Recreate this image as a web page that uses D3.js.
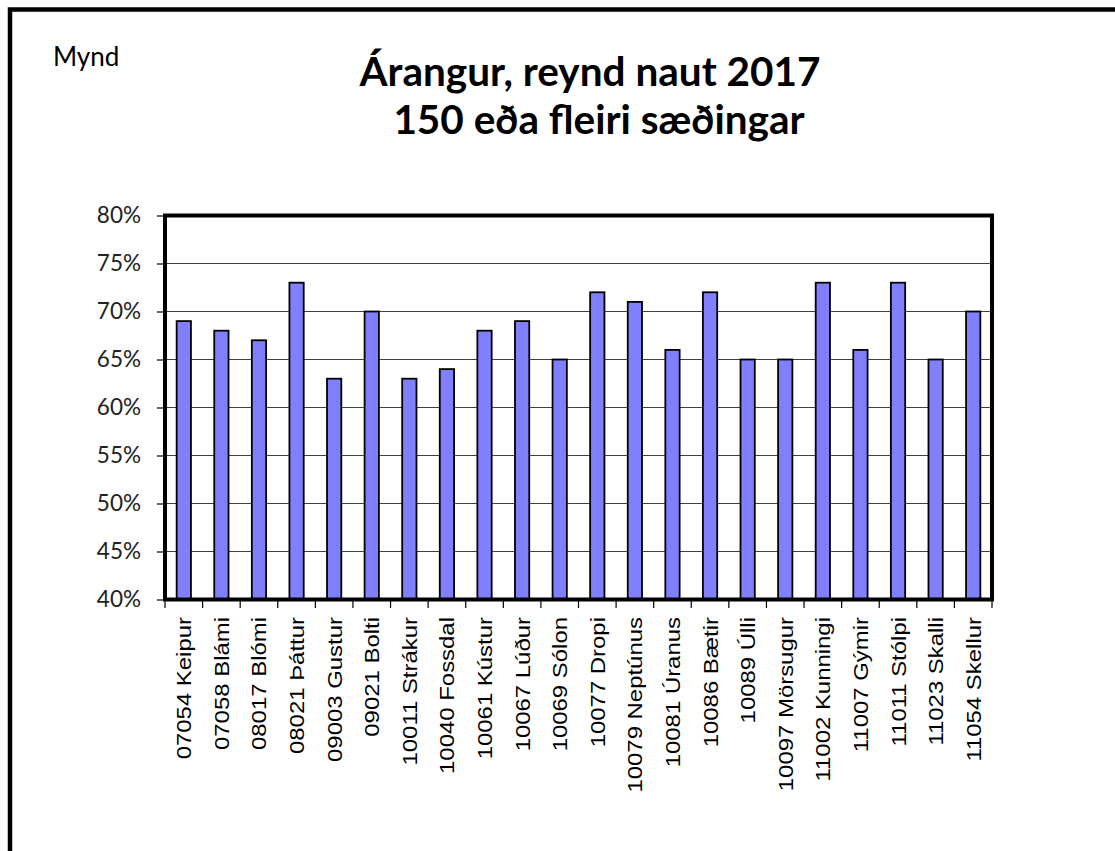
<!DOCTYPE html>
<html><head><meta charset="utf-8">
<script src="https://cdn.jsdelivr.net/npm/d3@7"></script>
<style>html,body{margin:0;padding:0;background:#fff;}svg{display:block;}</style>
</head><body>
<svg id="c" width="1115" height="851"></svg>
<script>
const categories = ["07054 Keipur","07058 Blámi","08017 Blómi","08021 Þáttur","09003 Gustur","09021 Bolti","10011 Strákur","10040 Fossdal","10061 Kústur","10067 Lúður","10069 Sólon","10077 Dropi","10079 Neptúnus","10081 Úranus","10086 Bætir","10089 Úlli","10097 Mörsugur","11002 Kunningi","11007 Gýmir","11011 Stólpi","11023 Skalli","11054 Skellur"];
const values = [0.69,0.68,0.67,0.73,0.63,0.70,0.63,0.64,0.68,0.69,0.65,0.72,0.71,0.66,0.72,0.65,0.65,0.73,0.66,0.73,0.65,0.70];
const yTicks = [0.40,0.45,0.50,0.55,0.60,0.65,0.70,0.75,0.80];
const titleLines = ["Árangur, reynd naut 2017","150 eða fleiri sæðingar"];
const cornerLabel = "Mynd";

const svg = d3.select("#c");
const L = 165, R = 992, T = 215.5, B = 599.5;

// outer frame (top and left edges visible)
svg.append("path").attr("d","M10,851 L10,9.5 L1115,9.5").attr("fill","none").attr("stroke","#000").attr("stroke-width",4.5);

svg.append("text").attr("x",53).attr("y",66).attr("font-family","Lato, sans-serif").attr("font-size",26).attr("fill","#000").text(cornerLabel);

const title = svg.append("text").attr("text-anchor","middle").attr("font-family","Lato, sans-serif").attr("font-weight","bold").attr("font-size",40.5).attr("fill","#000");
title.append("tspan").attr("x",590).attr("y",86).text(titleLines[0]);
title.append("tspan").attr("x",599).attr("y",134).text(titleLines[1]);

const x = d3.scaleBand().domain(categories).range([L,R]).paddingInner(0.62).paddingOuter(0.31);
const y = d3.scaleLinear().domain([0.40,0.80]).range([B,T]);

// gridlines
svg.append("g").selectAll("line").data(yTicks.slice(1,-1)).join("line")
  .attr("x1",L).attr("x2",R).attr("y1",d=>y(d)).attr("y2",d=>y(d))
  .attr("stroke","#404040").attr("stroke-width",1.2);

// bars
svg.append("g").selectAll("rect").data(values).join("rect")
  .attr("x",(d,i)=>x(categories[i]))
  .attr("y",d=>y(d))
  .attr("width",x.bandwidth())
  .attr("height",d=>B-y(d))
  .attr("fill","#8080ff").attr("stroke","#000").attr("stroke-width",1.8);

// plot border
svg.append("rect").attr("x",L).attr("y",T).attr("width",R-L).attr("height",B-T)
  .attr("fill","none").attr("stroke","#000").attr("stroke-width",4);

// y axis
const yAxis = d3.axisLeft(y).tickValues(yTicks).tickFormat(d3.format(".0%")).tickSize(8).tickPadding(16);
const gy = svg.append("g").attr("transform",`translate(${L},0)`).call(yAxis);
gy.select(".domain").remove();
gy.selectAll(".tick line").attr("stroke","#000").attr("stroke-width",1.2);
gy.selectAll(".tick text").attr("font-family","Lato, sans-serif").attr("font-size",22.5).attr("fill","#222");

// x axis ticks at category boundaries
const bounds = d3.range(categories.length+1).map(i=>L + i*(R-L)/categories.length);
svg.append("g").selectAll("line").data(bounds).join("line")
  .attr("x1",d=>d).attr("x2",d=>d).attr("y1",B).attr("y2",B+8.5)
  .attr("stroke","#000").attr("stroke-width",1.2);

// x labels rotated
svg.append("g").selectAll("text").data(categories).join("text")
  .attr("transform",d=>`translate(${x(d)+x.bandwidth()/2+7.5},617) rotate(-90) scale(1.14,1)`)
  .attr("text-anchor","end")
  .attr("font-family","'Liberation Sans', Arial, sans-serif").attr("font-size",21).attr("fill","#000")
  .text(d=>d);
</script>
</body></html>
